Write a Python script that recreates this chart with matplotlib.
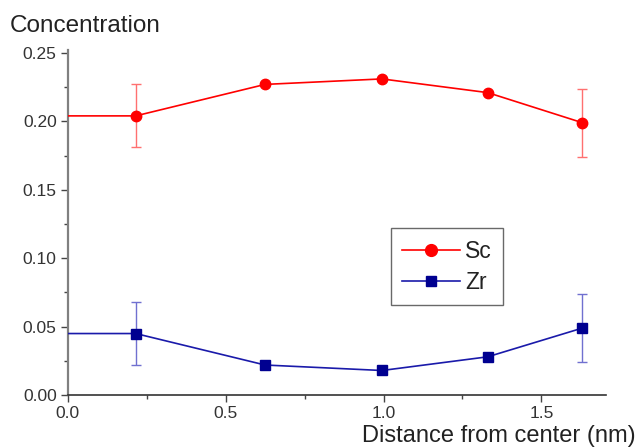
import matplotlib.pyplot as plt
from matplotlib.lines import Line2D
from matplotlib.ticker import MultipleLocator

plt.rcParams['font.family'] = ['Liberation Sans', 'DejaVu Sans']

# Data (first point at x=0 is the line start, no marker)
dist = [0.0, 0.215, 0.625, 0.995, 1.33, 1.63]
sc = [0.204, 0.204, 0.227, 0.231, 0.221, 0.199]
zr = [0.045, 0.045, 0.022, 0.018, 0.028, 0.049]

# Error bars exist only on the outer points
err_x = [0.215, 1.63]
sc_err_y = [0.204, 0.199]
sc_err = [0.023, 0.025]
zr_err_y = [0.045, 0.049]
zr_err = [0.023, 0.025]

red = '#ff0000'
line_blue = '#1a1aaa'
navy = '#000090'

fig = plt.figure(figsize=(6.4, 4.48), dpi=100)
ax = fig.add_axes([0.106, 0.118, 0.841, 0.770])

# Lines
ax.plot(dist, sc, color=red, lw=1.2, zorder=3)
ax.plot(dist, zr, color=line_blue, lw=1.2, zorder=3)

# Error bars
ax.errorbar(err_x, sc_err_y, yerr=sc_err, fmt='none', ecolor='#ff7070',
            elinewidth=1.0, capsize=3.5, capthick=1.0, zorder=2)
ax.errorbar(err_x, zr_err_y, yerr=zr_err, fmt='none', ecolor='#7070d0',
            elinewidth=1.0, capsize=3.5, capthick=1.0, zorder=2)

# Markers
ax.plot(dist[1:], sc[1:], 'o', color=red, ms=7.5, zorder=4)
ax.plot(dist[1:], zr[1:], 's', color=navy, ms=7, zorder=4)

ax.set_xlim(0, 1.705)
ax.set_ylim(0, 0.252)
ax.xaxis.set_major_locator(MultipleLocator(0.5))
ax.xaxis.set_minor_locator(MultipleLocator(0.25))
ax.yaxis.set_major_locator(MultipleLocator(0.05))
ax.yaxis.set_minor_locator(MultipleLocator(0.025))
ax.xaxis.set_major_formatter(plt.FormatStrFormatter('%.1f'))
ax.yaxis.set_major_formatter(plt.FormatStrFormatter('%.2f'))

ax.spines['top'].set_visible(False)
ax.spines['right'].set_visible(False)
ax.spines['left'].set_color('#808080')
ax.spines['left'].set_linewidth(1.6)
ax.spines['bottom'].set_color('#333333')
ax.spines['bottom'].set_linewidth(1.2)

ax.tick_params(axis='both', which='major', direction='out', length=5,
               width=1, colors='#444444', labelsize=12.5, labelcolor='#333333')
ax.tick_params(axis='both', which='minor', direction='out', length=3,
               width=1, colors='#444444')
ax.tick_params(axis='x', pad=3)
ax.tick_params(axis='y', pad=3)

fig.text(0.016, 0.9286, 'Concentration', fontsize=17.5, color='#222222',
         ha='left', va='baseline')
fig.text(0.993, 0.0145, 'Distance from center (nm)', fontsize=17,
         color='#222222', ha='right', va='baseline')

handles = [
    Line2D([], [], color=red, lw=1.2, marker='o', ms=8.5),
    Line2D([], [], color=line_blue, lw=1.2, marker='s', ms=6.5,
           markerfacecolor=navy, markeredgecolor=navy),
]
leg = ax.legend(handles, ['Sc', 'Zr'], loc='upper left',
                bbox_to_anchor=(0.600, 0.484), fontsize=16.5, frameon=True,
                fancybox=False, edgecolor='#444444', handlelength=2.5,
                handletextpad=0.25, borderpad=0.5, labelspacing=0.36,
                borderaxespad=0)
leg.get_frame().set_linewidth(1.0)
for t in leg.get_texts():
    t.set_color('#222222')

fig.savefig('out.png', dpi=100, facecolor='white')
